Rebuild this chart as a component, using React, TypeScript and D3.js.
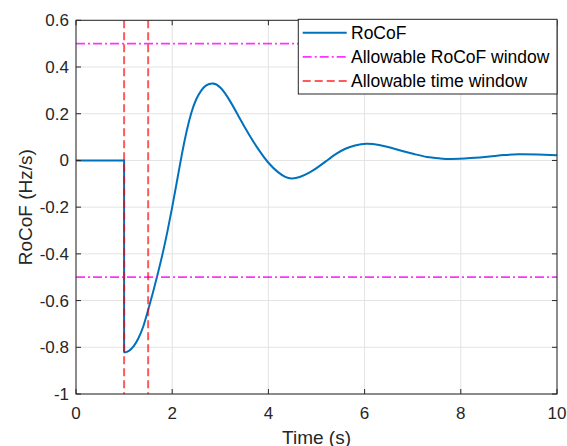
import React from "react";
import * as d3 from "d3";

// ---- data ----
const preTime = [0, 1, 1];
const preValue = [0, 0, -0.823];

const respTime = [1, 1.1, 1.2, 1.3, 1.4, 1.5, 1.6, 1.7, 1.8, 1.9, 2.0, 2.1, 2.2, 2.3, 2.4, 2.5, 2.6, 2.7, 2.84, 3.0, 3.2, 3.4, 3.6, 3.8, 4.0, 4.2, 4.35, 4.48, 4.65, 4.85, 5.0, 5.2, 5.4, 5.6, 5.8, 6.04, 6.3, 6.55, 6.8, 7.05, 7.3, 7.55, 7.8, 8.2, 8.6, 8.9, 9.2, 9.6, 10];
const respValue = [-0.823, -0.815, -0.795, -0.76, -0.71, -0.64, -0.565, -0.485, -0.4, -0.305, -0.2, -0.088, 0.025, 0.125, 0.205, 0.262, 0.298, 0.32, 0.329, 0.312, 0.255, 0.182, 0.11, 0.045, -0.01, -0.05, -0.07, -0.077, -0.071, -0.052, -0.033, -0.003, 0.027, 0.05, 0.064, 0.071, 0.066, 0.054, 0.039, 0.026, 0.015, 0.009, 0.006, 0.01, 0.017, 0.023, 0.026, 0.025, 0.022];

const rocofLimits = [0.5, -0.5];
const timeLimits = [1, 1.5];

const xTicks = [0, 2, 4, 6, 8, 10];
const yTicks = [-1, -0.8, -0.6, -0.4, -0.2, 0, 0.2, 0.4, 0.6];

const legendLabels = ["RoCoF", "Allowable RoCoF window", "Allowable time window"];

const W = 567;
const H = 446;
const left = 76;
const right = 557;
const top = 20.3;
const bottom = 394;

const BLUE = "#0072BD";
const MAGENTA = "rgba(255,0,255,0.8)";
const RED = "rgba(255,0,0,0.65)";
const AXIS = "#262626";
const FONT = "Arial, 'Liberation Sans', Helvetica, sans-serif";

const fmt = (v: number) => String(+v.toFixed(1));

export default function App() {
  const x = d3.scaleLinear().domain([0, 10]).range([left, right]);
  const y = d3.scaleLinear().domain([-1, 0.6]).range([bottom, top]);

  const pre = preTime.map((t, i) => [t, preValue[i]] as [number, number]);
  const resp = respTime.map((t, i) => [t, respValue[i]] as [number, number]);

  const linLine = d3.line<[number, number]>().x(d => x(d[0])).y(d => y(d[1])).curve(d3.curveLinear);
  const smoothLine = d3.line<[number, number]>().x(d => x(d[0])).y(d => y(d[1])).curve(d3.curveNatural);

  const tickLen = 5;
  const legX0 = 298.3;
  const legY0 = 19.3;
  const legX1 = right;
  const legY1 = 94;
  const rowY = [32.7, 56.8, 80.9];

  return (
    <svg width={W} height={H} style={{ position: "absolute", left: 0, top: 0, background: "#fff" }} fontFamily={FONT}>
      <rect x={0} y={0} width={W} height={H} fill="#fff" />
      {/* grid */}
      <g stroke="#e3e3e3" strokeWidth={1}>
        {xTicks.map(t => (
          <line key={"gx" + t} x1={x(t)} x2={x(t)} y1={top} y2={bottom} />
        ))}
        {yTicks.map(t => (
          <line key={"gy" + t} x1={left} x2={right} y1={y(t)} y2={y(t)} />
        ))}
      </g>
      <defs>
        <clipPath id="plotclip">
          <rect x={left} y={top} width={right - left} height={bottom - top} />
        </clipPath>
      </defs>
      <g clipPath="url(#plotclip)">
        <path d={linLine(pre) || ""} fill="none" stroke={BLUE} strokeWidth={2} />
        <path d={smoothLine(resp) || ""} fill="none" stroke={BLUE} strokeWidth={2} />
        {rocofLimits.map(v => (
          <line key={"m" + v} x1={left} x2={right} y1={y(v)} y2={y(v)} stroke={MAGENTA} strokeWidth={1.8} strokeDasharray="9,3,2,3" />
        ))}
        {timeLimits.map(t => (
          <line key={"r" + t} x1={x(t)} x2={x(t)} y1={top} y2={bottom} stroke={RED} strokeWidth={2} strokeDasharray="8,4" />
        ))}
      </g>
      {/* axes box */}
      <rect x={left} y={top} width={right - left} height={bottom - top} fill="none" stroke={AXIS} strokeWidth={1} />
      <g stroke={AXIS} strokeWidth={1}>
        {xTicks.map(t => (
          <g key={"tx" + t}>
            <line x1={x(t)} x2={x(t)} y1={bottom} y2={bottom - tickLen} />
            <line x1={x(t)} x2={x(t)} y1={top} y2={top + tickLen} />
          </g>
        ))}
        {yTicks.map(t => (
          <g key={"ty" + t}>
            <line x1={left} x2={left + tickLen} y1={y(t)} y2={y(t)} />
            <line x1={right} x2={right - tickLen} y1={y(t)} y2={y(t)} />
          </g>
        ))}
      </g>
      {/* tick labels */}
      <g fill={AXIS} fontSize={17}>
        {xTicks.map(t => (
          <text key={"lx" + t} x={x(t)} y={418.5} textAnchor="middle">{fmt(t)}</text>
        ))}
        {yTicks.map(t => (
          <text key={"ly" + t} x={69} y={y(t) + 6} textAnchor="end">{fmt(t)}</text>
        ))}
      </g>
      {/* axis labels */}
      <text x={(left + right) / 2} y={443.5} textAnchor="middle" fontSize={19} fill={AXIS}>Time (s)</text>
      <text transform={`translate(31.5,${(top + bottom) / 2}) rotate(-90)`} textAnchor="middle" fontSize={19} fill={AXIS}>RoCoF (Hz/s)</text>
      {/* legend */}
      <rect x={legX0} y={legY0} width={legX1 - legX0} height={legY1 - legY0} fill="#fff" stroke={AXIS} strokeWidth={1} />
      <line x1={302.7} x2={346.7} y1={rowY[0]} y2={rowY[0]} stroke={BLUE} strokeWidth={2} />
      <line x1={302.7} x2={346.7} y1={rowY[1]} y2={rowY[1]} stroke={MAGENTA} strokeWidth={1.8} strokeDasharray="9,3,2,3" />
      <line x1={302.7} x2={346.7} y1={rowY[2]} y2={rowY[2]} stroke={RED} strokeWidth={2} strokeDasharray="8,4" />
      <g fill="#000" fontSize={17.5}>
        {legendLabels.map((l, i) => (
          <text key={l} x={351} y={rowY[i] + 6}>{l}</text>
        ))}
      </g>
    </svg>
  );
}
